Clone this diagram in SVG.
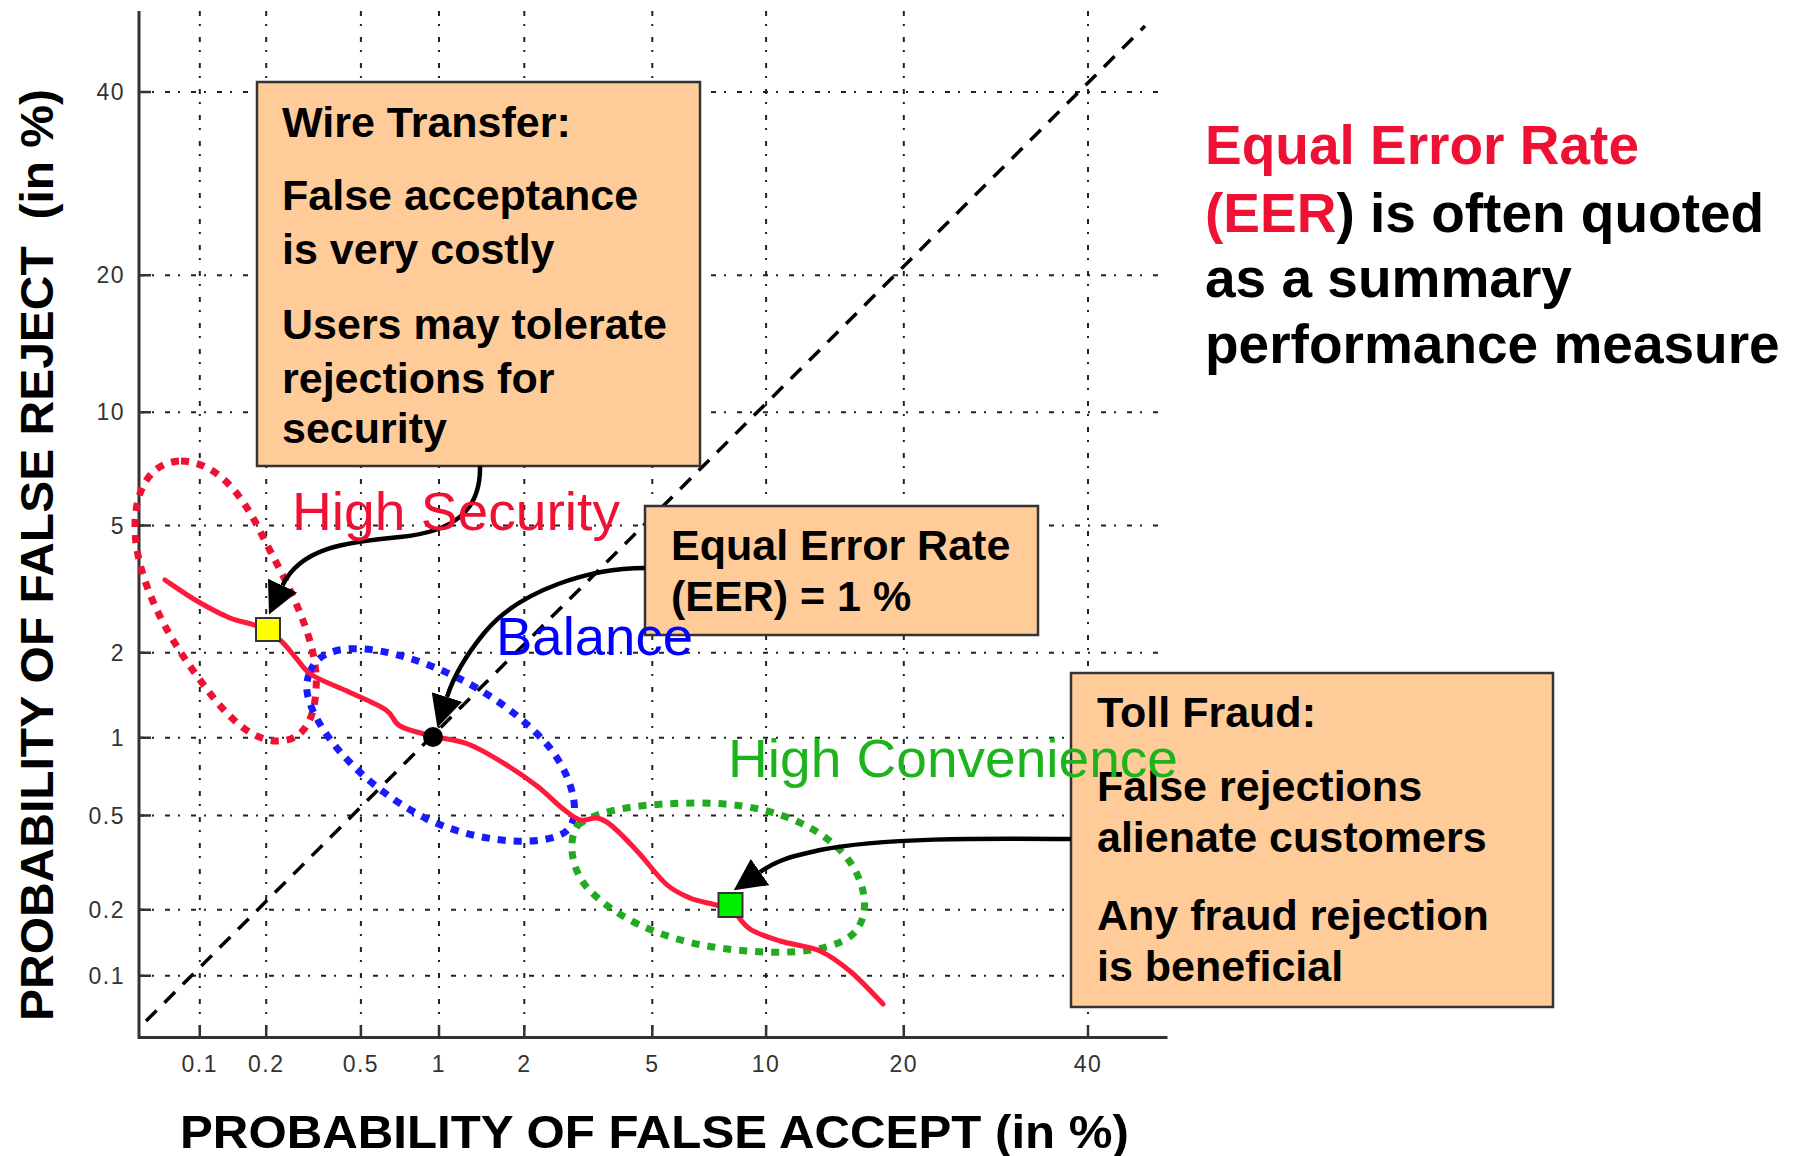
<svg xmlns="http://www.w3.org/2000/svg" width="1794" height="1156" viewBox="0 0 1794 1156">
<defs>
<style>
.grid{stroke:#222;stroke-width:2;stroke-dasharray:5 8 2 11;fill:none}
.axis{stroke:#333;stroke-width:3;fill:none}
.tick{stroke:#333;stroke-width:2.5}
.tl{font-family:"Liberation Sans",Arial,sans-serif;font-size:23px;fill:#333;letter-spacing:1.5px}
.box rect{fill:#FFCC99;stroke:#333;stroke-width:2.5}
.box text{font-family:"Liberation Sans",Arial,sans-serif;font-weight:bold;font-size:43px;fill:#000}
.conn path{stroke:#000;stroke-width:4.5;fill:none;marker-end:url(#ah)}
.loop{fill:none;stroke-width:7;stroke-dasharray:8 8}
.lbl{font-family:"Liberation Sans",Arial,sans-serif;font-size:54px}
.big{font-family:"Liberation Sans",Arial,sans-serif;font-weight:bold;font-size:55px;fill:#000}
.ax{font-family:"Liberation Sans",Arial,sans-serif;font-weight:bold;font-size:47px;fill:#000}
</style>
<marker id="ah" markerUnits="userSpaceOnUse" viewBox="0 0 32 32" markerWidth="32" markerHeight="32" refX="0" refY="16" orient="auto">
<path d="M0,0 L32,16 L0,32 Z" fill="#000"/>
</marker>
</defs>
<rect width="1794" height="1156" fill="#fff"/>

<g id="grid">
<path class="grid" d="M199.8,11V1037M266.2,11V1037M360.9,11V1037M439,11V1037M524.3,11V1037M652.3,11V1037M766.1,11V1037M903.8,11V1037M1088,11V1037"/>
<path class="grid" d="M139,975.7H1165M139,909.7H1165M139,815.5H1165M139,737.7H1165M139,652.8H1165M139,525.5H1165M139,412.3H1165M139,275.3H1165M139,92H1165"/>
</g>

<g id="axes">
<path class="axis" d="M139,11V1037.5H1167.5"/>
<path class="tick" d="M199.8,1037v-12M266.2,1037v-12M360.9,1037v-12M439,1037v-12M524.3,1037v-12M652.3,1037v-12M766.1,1037v-12M903.8,1037v-12M1088,1037v-12"/>
<path class="tick" d="M139,975.7h12M139,909.7h12M139,815.5h12M139,737.7h12M139,652.8h12M139,525.5h12M139,412.3h12M139,275.3h12M139,92h12"/>
<g class="tl" text-anchor="middle">
<text x="199.8" y="1072">0.1</text>
<text x="266.2" y="1072">0.2</text>
<text x="360.9" y="1072">0.5</text>
<text x="439" y="1072">1</text>
<text x="524.3" y="1072">2</text>
<text x="652.3" y="1072">5</text>
<text x="766.1" y="1072">10</text>
<text x="903.8" y="1072">20</text>
<text x="1088" y="1072">40</text>
</g>
<g class="tl" text-anchor="end">
<text x="125" y="983.7">0.1</text>
<text x="125" y="917.7">0.2</text>
<text x="125" y="823.5">0.5</text>
<text x="125" y="745.7">1</text>
<text x="125" y="660.8">2</text>
<text x="125" y="533.5">5</text>
<text x="125" y="420.3">10</text>
<text x="125" y="283.3">20</text>
<text x="125" y="100">40</text>
</g>
<text class="ax" x="180" y="1148" textLength="949" lengthAdjust="spacingAndGlyphs">PROBABILITY OF FALSE ACCEPT (in %)</text>
<text class="ax" transform="translate(53,1021) rotate(-90)" x="0" y="0" textLength="932" lengthAdjust="spacingAndGlyphs">PROBABILITY OF FALSE REJECT&#160; (in %)</text>
</g>

<g id="eer-line">
<path d="M146,1021L1145,26" stroke="#000" stroke-width="3.5" stroke-dasharray="15 11" fill="none"/>
</g>

<g id="regions">
<path id="high-security-region" class="loop" stroke="#ee1133" d="M181,461 C215,462 240,490 262,535 C285,580 320,640 316,690 C314,725 300,742 276,741 C250,740 225,715 200,680 C170,640 145,595 137,550 C130,510 140,462 181,461 Z"/>
<path id="balance-region" class="loop" stroke="#1a1aff" d="M310,672 C318,650 345,645 380,651 C440,662 510,700 550,748 C575,780 585,825 560,835 C530,848 470,840 425,818 C380,795 335,755 315,715 C305,695 305,683 310,672 Z"/>
<path id="high-convenience-region" class="loop" stroke="#22aa22" d="M578,825 C600,808 650,803 700,803 C760,803 810,820 840,850 C865,875 874,915 852,935 C827,955 770,955 720,948 C660,940 610,915 585,885 C570,865 568,838 578,825 Z"/>
</g>

<g id="det-curve">
<path fill="none" stroke="#ff1a3c" stroke-width="5" stroke-linecap="round" d="M165,580 C170.3,583.5 186.2,594.7 197,601 C207.8,607.3 220,613.8 230,618 C240,622.2 248.7,622.3 257,626 C265.3,629.7 273.5,634.7 280,640 C286.5,645.3 290.7,652.2 296,658 C301.3,663.8 303.2,669.3 312,675 C320.8,680.7 336.7,686.2 349,692 C361.3,697.8 377.5,704.3 386,710 C394.5,715.7 392.3,721.7 400,726 C407.7,730.3 420.7,733 432,736 C443.3,739 455.8,739.3 468,744 C480.2,748.7 493.5,757 505,764 C516.5,771 527.5,778.7 537,786 C546.5,793.3 554.8,802.3 562,808 C569.2,813.7 574.2,818.3 580,820 C585.8,821.7 591.7,817 597,818 C602.3,819 605.2,820.3 612,826 C618.8,831.7 629,842.3 638,852 C647,861.7 657.3,876.3 666,884 C674.7,891.7 681.7,894.5 690,898 C698.3,901.5 709,903 716,905 C723,907 726.3,906 732,910 C737.7,914 742,923.8 750,929 C758,934.2 768.3,937.3 780,941 C791.7,944.7 808.2,945.8 820,951 C831.8,956.2 840.5,963.2 851,972 C861.5,980.8 877.7,998.7 883,1004"/>
</g>

<g id="wire-transfer" class="box">
<rect x="257" y="82" width="443" height="384"/>
<text x="282" y="137">Wire Transfer:</text>
<text x="282" y="210">False acceptance</text>
<text x="282" y="264">is very costly</text>
<text x="282" y="339">Users may tolerate</text>
<text x="282" y="393">rejections for</text>
<text x="282" y="443">security</text>
</g>

<g id="eer-box" class="box">
<rect x="645" y="506" width="393" height="129"/>
<text x="671" y="560">Equal Error Rate</text>
<text x="671" y="611">(EER) = 1 %</text>
</g>

<g id="toll-fraud" class="box">
<rect x="1071" y="673" width="482" height="334"/>
<text x="1097" y="727">Toll Fraud:</text>
<text x="1097" y="801">False rejections</text>
<text x="1097" y="852">alienate customers</text>
<text x="1097" y="930">Any fraud rejection</text>
<text x="1097" y="981">is beneficial</text>
</g>

<g id="connectors" class="conn">
<path d="M480,466 C481,512 452,532 400,537 C345,542 300,548 282.5,585.5"/>
<path d="M645,568 C590,568 520,590 485,632 C466,655 453,678 447,697"/>
<path d="M1071,839 C980,838 880,838 820,850 C795,856 780,858 760,872"/>
</g>

<g id="operating-points">
<rect id="wire-point" x="256" y="618" width="24" height="23" fill="#ffff00" stroke="#333" stroke-width="2"/>
<circle id="eer-point" cx="433" cy="737" r="10" fill="#000"/>
<rect id="toll-point" x="718.5" y="893" width="24" height="24" fill="#00ee00" stroke="#333" stroke-width="2"/>
</g>

<g id="labels" class="lbl">
<text x="292" y="530" fill="#ee1133" textLength="328" lengthAdjust="spacingAndGlyphs">High Security</text>
<text x="496" y="655" fill="#0000ff" textLength="197" lengthAdjust="spacingAndGlyphs">Balance</text>
<text x="728" y="777" fill="#1db31d" textLength="450" lengthAdjust="spacingAndGlyphs">High Convenience</text>
</g>

<g id="summary" class="big">
<text x="1205" y="164" fill="#ee1133">Equal Error Rate</text>
<text x="1205" y="232"><tspan fill="#ee1133">(EER</tspan>) is often quoted</text>
<text x="1205" y="297">as a summary</text>
<text x="1205" y="363">performance measure</text>
</g>
</svg>
